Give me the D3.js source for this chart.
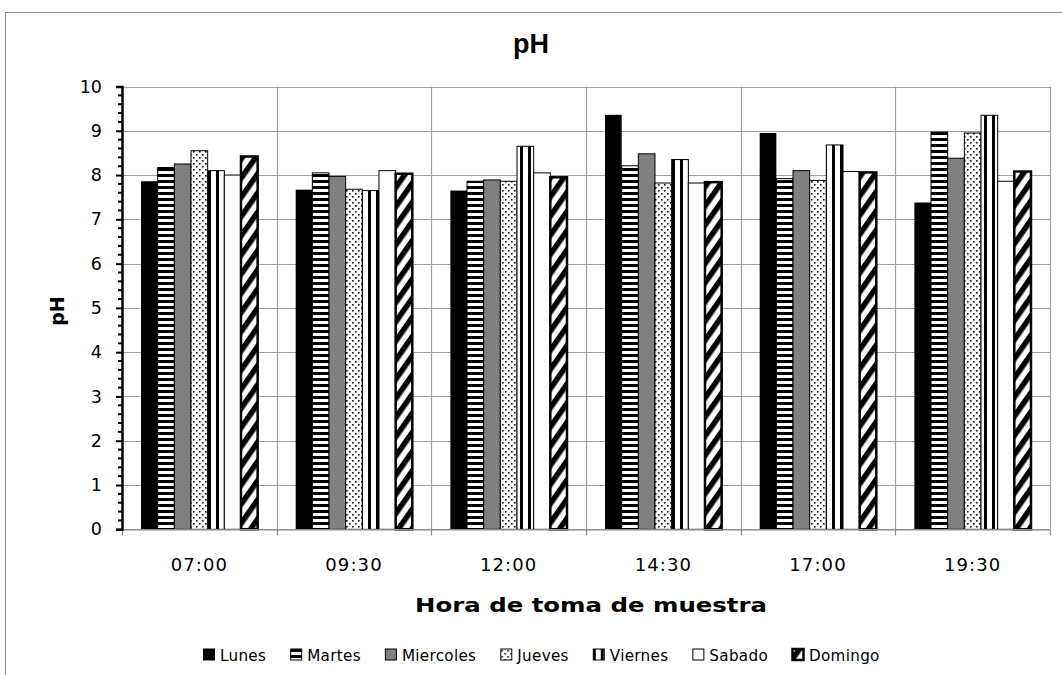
<!DOCTYPE html>
<html><head><meta charset="utf-8">
<script src="https://cdn.jsdelivr.net/npm/d3@7"></script>
<style>html,body{margin:0;padding:0;background:#fff;}svg{display:block;}</style>
</head><body>
<svg id="chart" width="1062" height="675"></svg>
<script>
const categories = ["07:00", "09:30", "12:00", "14:30", "17:00", "19:30"];
const seriesNames = ["Lunes", "Martes", "Miercoles", "Jueves", "Viernes", "Sabado", "Domingo"];
const lunes     = [7.86, 7.67, 7.65, 9.36, 8.95, 7.38];
const martes    = [8.17, 8.05, 7.86, 8.21, 7.92, 8.97];
const miercoles = [8.25, 7.97, 7.89, 8.48, 8.10, 8.38];
const jueves    = [8.55, 7.68, 7.86, 7.82, 7.88, 8.95];
const viernes   = [8.10, 7.65, 8.65, 8.35, 8.68, 9.35];
const sabado    = [8.00, 8.10, 8.05, 7.82, 8.08, 7.86];
const domingo   = [8.42, 8.03, 7.95, 7.84, 8.06, 8.08];
const yTicks = [0, 1, 2, 3, 4, 5, 6, 7, 8, 9, 10];
const chartTitle = "pH";
const yTitle = "pH";
const xTitle = "Hora de toma de muestra";

const seriesValues = [lunes, martes, miercoles, jueves, viernes, sabado, domingo];
const fills = ["#000", "url(#pMartes)", "#808080", "url(#pJueves)", "url(#pViernes)", "#fff", "url(#pDomingo)"];
const strokeW = [0, 1, 1, 1, 1, 1, 2.5];

const svg = d3.select("#chart");
const defs = svg.append("defs");
let p = defs.append("pattern").attr("id", "pMartes").attr("patternUnits", "userSpaceOnUse").attr("width", 6).attr("height", 6);
p.append("rect").attr("width", 6).attr("height", 6).attr("fill", "#fff");
p.append("rect").attr("width", 6).attr("height", 3).attr("fill", "#000");
p = defs.append("pattern").attr("id", "pJueves").attr("patternUnits", "userSpaceOnUse").attr("width", 6).attr("height", 6);
p.append("rect").attr("width", 6).attr("height", 6).attr("fill", "#fff");
p.append("rect").attr("x", 1).attr("y", 1).attr("width", 1.6).attr("height", 1.6).attr("fill", "#111");
p.append("rect").attr("x", 4).attr("y", 4).attr("width", 1.6).attr("height", 1.6).attr("fill", "#111");
p = defs.append("pattern").attr("id", "pViernes").attr("patternUnits", "userSpaceOnUse").attr("width", 8).attr("height", 8);
p.append("rect").attr("width", 8).attr("height", 8).attr("fill", "#fff");
p.append("rect").attr("x", 0).attr("width", 3).attr("height", 8).attr("fill", "#000");
p = defs.append("pattern").attr("id", "pDomingo").attr("patternUnits", "userSpaceOnUse").attr("width", 11).attr("height", 11).attr("patternTransform", "rotate(35)");
p.append("rect").attr("width", 11).attr("height", 11).attr("fill", "#fff");
p.append("rect").attr("width", 5.5).attr("height", 11).attr("fill", "#000");

svg.append("rect").attr("x", 5.5).attr("y", 12.5).attr("width", 1200).attr("height", 800)
  .attr("fill", "none").attr("stroke", "#8c8c8c").attr("stroke-width", 1);

const L = 122, R = 1050, T = 86.5, B = 529.3;
const y = d3.scaleLinear().domain([0, 10]).range([B, T]);
const x0 = d3.scaleBand().domain(categories).range([L, R]).padding(0);
const bw = x0.bandwidth();
const x1 = d3.scaleBand().domain(seriesNames).range([bw * 0.123, bw * 0.877]).padding(0);

const grid = svg.append("g");
grid.selectAll("line.h").data(yTicks.filter(d => d > 0)).join("line")
  .attr("x1", L).attr("x2", R).attr("y1", d => Math.round(y(d)) + 0.5).attr("y2", d => Math.round(y(d)) + 0.5)
  .attr("stroke", "#a0a0a0").attr("stroke-width", 1.2);
const bounds = categories.map(c => x0(c)).concat([R]);
grid.selectAll("line.v").data(bounds.slice(1)).join("line")
  .attr("x1", d => Math.round(d) + 0.5).attr("x2", d => Math.round(d) + 0.5).attr("y1", T).attr("y2", B)
  .attr("stroke", "#a0a0a0").attr("stroke-width", 1.2);

const barsG = svg.append("g");
seriesNames.forEach((s, i) => {
  barsG.append("g").selectAll("rect").data(seriesValues[i]).join("rect")
    .attr("x", (d, j) => x0(categories[j]) + x1(s))
    .attr("y", d => y(d))
    .attr("width", x1.bandwidth())
    .attr("height", d => y(0) - y(d))
    .attr("fill", fills[i])
    .attr("stroke", strokeW[i] ? "#000" : "none")
    .attr("stroke-width", strokeW[i]);
});

const xAxisG = svg.append("g").attr("transform", `translate(0,${B})`);
xAxisG.append("line").attr("x1", L).attr("x2", R).attr("y1", 0.5).attr("y2", 0.5).attr("stroke", "#8c8c8c").attr("stroke-width", 1.5);
xAxisG.selectAll("line.t").data(bounds).join("line")
  .attr("x1", d => Math.round(d) + 0.5).attr("x2", d => Math.round(d) + 0.5).attr("y1", 0).attr("y2", 6)
  .attr("stroke", "#8c8c8c").attr("stroke-width", 1.2);
xAxisG.selectAll("text").data(categories).join("text")
  .attr("x", d => x0(d) + bw / 2).attr("y", 42)
  .attr("text-anchor", "middle").attr("font-family", "DejaVu Sans").attr("font-size", 18)
  .attr("letter-spacing", 1.1).attr("fill", "#000")
  .text(d => d);

const yAxis = d3.axisLeft(y).tickValues(yTicks).tickSize(6).tickFormat(d3.format("d"));
const yAxisG = svg.append("g").attr("transform", `translate(${L},0)`).call(yAxis);
yAxisG.select(".domain").attr("stroke", "#000").attr("stroke-width", 2.5);
yAxisG.selectAll(".tick line").attr("stroke", "#000").attr("stroke-width", 2);
yAxisG.selectAll(".tick text").attr("font-family", "DejaVu Sans").attr("font-size", 17.5).attr("fill", "#000").attr("x", -20);
const minor = d3.range(0, 50).map(i => i * 0.2).filter(v => Math.abs(v - Math.round(v)) > 1e-6);
yAxisG.selectAll("line.minor").data(minor).join("line").attr("class", "minor")
  .attr("x1", -4).attr("x2", 0).attr("y1", d => y(d)).attr("y2", d => y(d))
  .attr("stroke", "#000").attr("stroke-width", 2);

svg.append("text").attr("x", 531).attr("y", 53).attr("text-anchor", "middle")
  .attr("font-family", "Liberation Sans").attr("font-weight", "bold").attr("font-size", 27).text(chartTitle);
svg.append("text").attr("transform", "translate(64,311) rotate(-90)").attr("text-anchor", "middle")
  .attr("font-family", "DejaVu Sans").attr("font-weight", "bold").attr("font-size", 19).text(yTitle);
svg.append("text").attr("x", 591).attr("y", 612).attr("text-anchor", "middle")
  .attr("font-family", "DejaVu Sans").attr("font-weight", "bold").attr("font-size", 20)
  .attr("textLength", 352).attr("lengthAdjust", "spacingAndGlyphs").text(xTitle);

const lg = svg.append("g").attr("transform", "translate(0,655)");
let cx = 203;
const legGap = 24;
seriesNames.forEach((s, i) => {
  const g = lg.append("g").attr("transform", `translate(${cx},0)`);
  g.append("rect").attr("x", 0.5).attr("y", -6).attr("width", 11).attr("height", 11)
    .attr("fill", fills[i]).attr("stroke", "#000").attr("stroke-width", i === 6 ? 2.5 : 1);
  const t = g.append("text").attr("x", 17).attr("y", 6).attr("font-family", "DejaVu Sans").attr("font-size", 15.2)
    .attr("letter-spacing", 0.3).text(s);
  cx += 17 + t.node().getComputedTextLength() + legGap;
});
</script>
</body></html>
